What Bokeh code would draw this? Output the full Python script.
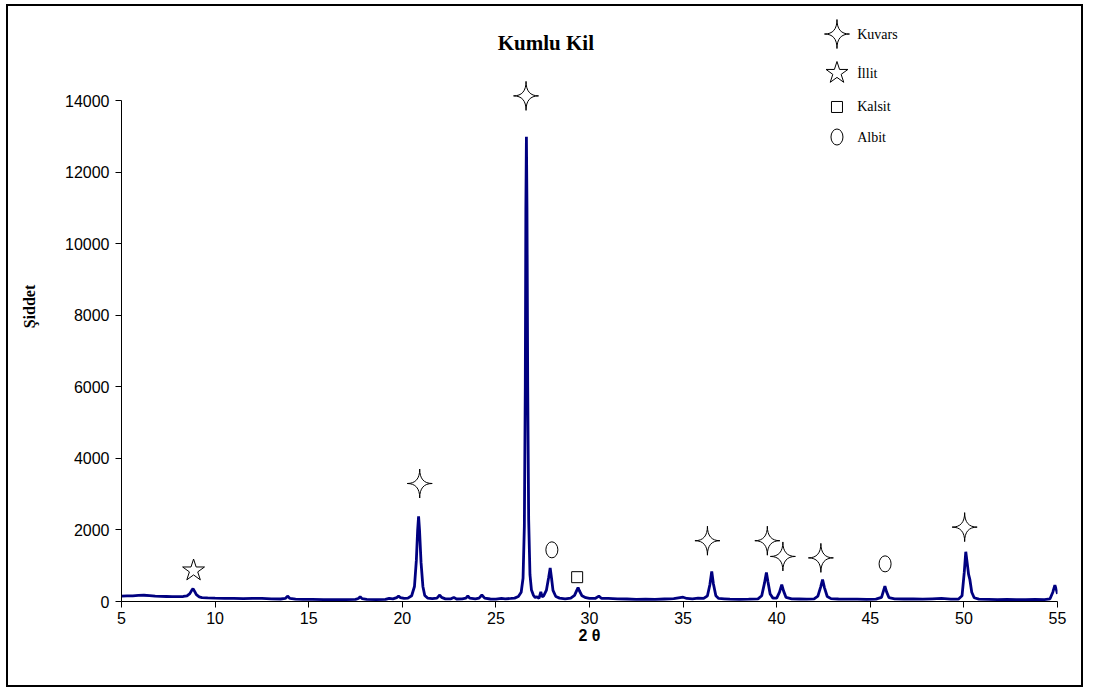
from bokeh.plotting import figure
from bokeh.models import FixedTicker, Range1d
from bokeh.core.properties import value
from bokeh.embed import file_html
from bokeh.resources import INLINE

# ---- data ----
theta = [
    5.0, 5.3, 5.6, 5.9, 6.2, 6.5, 6.8, 7.1, 7.4, 7.7,
    8.0, 8.3, 8.5, 8.65, 8.75, 8.82, 8.9, 9.0, 9.15, 9.3,
    9.6, 10.0, 10.5, 11.0, 11.5, 12.0, 12.5, 13.0, 13.5, 13.75,
    13.87, 14.0, 14.3, 14.7, 15.2, 15.8, 16.4, 17.0, 17.5, 17.65,
    17.75, 17.85, 18.1, 18.6, 19.1, 19.3, 19.5, 19.7, 19.8, 19.9,
    20.1, 20.3, 20.5, 20.65, 20.75, 20.82, 20.87, 20.92, 21.0, 21.1,
    21.2, 21.35, 21.6, 21.85, 22.0, 22.1, 22.3, 22.6, 22.75, 22.9,
    23.2, 23.4, 23.5, 23.6, 23.9, 24.1, 24.25, 24.4, 24.7, 25.0,
    25.3, 25.5, 25.8, 26.0, 26.2, 26.35, 26.45, 26.52, 26.57, 26.6,
    26.63, 26.66, 26.7, 26.75, 26.82, 26.9, 27.0, 27.1, 27.2, 27.3,
    27.4, 27.47, 27.55, 27.7, 27.82, 27.9, 27.97, 28.05, 28.2, 28.4,
    28.7, 29.0, 29.2, 29.32, 29.39, 29.46, 29.6, 29.8, 30.0, 30.3,
    30.5, 30.65, 31.0, 31.5, 32.0, 32.5, 33.0, 33.5, 34.0, 34.5,
    35.0, 35.2, 35.5, 35.8, 36.1, 36.3, 36.43, 36.53, 36.62, 36.75,
    36.9, 37.2, 37.5, 38.0, 38.5, 39.0, 39.2, 39.35, 39.45, 39.53,
    39.65, 39.8, 40.0, 40.15, 40.27, 40.37, 40.5, 40.8, 41.2, 41.6,
    42.0, 42.2, 42.35, 42.45, 42.55, 42.7, 42.9, 43.3, 43.8, 44.3,
    44.8, 45.3, 45.6, 45.7, 45.78, 45.87, 46.0, 46.3, 46.8, 47.3,
    47.8, 48.3, 48.8, 49.3, 49.7, 49.9, 50.02, 50.1, 50.17, 50.25,
    50.32, 50.42, 50.55, 50.8, 51.3, 51.8, 52.3, 52.8, 53.3, 53.8,
    54.3, 54.6, 54.75, 54.86, 54.95, 55.0,
]
intensity = [
    150, 155, 160, 170, 175, 165, 150, 145, 140, 135,
    135, 140, 160, 220, 310, 360, 290, 190, 130, 110,
    100, 95, 90, 85, 80, 85, 90, 75, 70, 85,
    150, 85, 65, 60, 60, 55, 55, 55, 60, 85,
    135, 80, 60, 55, 60, 90, 75, 110, 150, 110,
    85, 95, 160, 420, 1150, 2000, 2380, 2000, 1100, 420,
    170, 95, 80, 95, 180, 115, 75, 75, 115, 70,
    75, 95, 160, 95, 75, 95, 180, 95, 70, 65,
    85, 75, 85, 95, 140, 260, 650, 2100, 6000, 11000,
    13000, 11000, 6000, 2300, 750, 320, 180, 110, 130, 90,
    270, 130, 160, 320, 680, 940, 660, 310, 140, 95,
    75, 95, 170, 310, 390, 300, 160, 105, 85, 85,
    150, 85, 85, 75, 70, 60, 65, 60, 70, 80,
    120, 85, 75, 95, 85, 160, 470, 840, 490, 160,
    85, 75, 65, 60, 65, 75, 160, 520, 810, 560,
    210, 95, 95, 260, 470, 290, 115, 75, 70, 65,
    75, 150, 410, 610, 390, 140, 80, 70, 65, 65,
    60, 65, 115, 290, 430, 270, 105, 75, 70, 75,
    65, 75, 85, 65, 65, 160, 820, 1390, 1100, 760,
    610, 260, 105, 65, 60, 55, 60, 55, 55, 60,
    55, 75, 260, 460, 310, 210,
]

x_ticks = [5, 10, 15, 20, 25, 30, 35, 40, 45, 50, 55]
y_ticks = [0, 2000, 4000, 6000, 8000, 10000, 12000, 14000]

# phase markers above the peaks
kuvars_x = [20.93, 26.61, 36.30, 39.50, 40.33, 42.36, 50.04]
kuvars_y = [3300, 14140, 1700, 1700, 1260, 1220, 2080]
illit_x = [8.85]
illit_y = [866]
kalsit_x = [29.34]
kalsit_y = [680]
albit_x = [27.99, 45.79]
albit_y = [1445, 1053]

legend_names = ["Kuvars", "İllit", "Kalsit", "Albit"]
legend_y = [15870, 14780, 13830, 12990]
legend_sym_x = 43.22
legend_text_x = 44.3

title_text = "Kumlu Kil"
title_x = 27.67
title_y = 15620

X_RANGE = (5, 55)
Y_RANGE = (0, 16500)
FRAME_W = 1048.7 - 112.7   # px width of plot frame
FRAME_H = 595 - 5          # px height of plot frame

p = figure(width=1077, height=683,
           x_range=Range1d(*X_RANGE), y_range=Range1d(*Y_RANGE),
           output_backend="svg", toolbar_location=None,
           min_border_left=113, min_border_right=28,
           min_border_top=5, min_border_bottom=88)
p.margin = (4, 0, 0, 6)
p.styles = {"border": "2px solid black"}
p.outline_line_color = None
p.xgrid.visible = False
p.ygrid.visible = False
p.background_fill_color = "white"
p.border_fill_color = "white"

for ax in (p.xaxis[0], p.yaxis[0]):
    ax.major_tick_in = 0
    ax.major_tick_out = 6
    ax.minor_tick_line_color = None
    ax.axis_line_color = "black"
    ax.major_tick_line_color = "black"
    ax.major_label_text_font = "Liberation Sans"
    ax.major_label_text_font_size = "16px"
    ax.major_label_text_color = "black"
    ax.axis_label_text_color = "black"
    ax.axis_label_text_font_style = "bold"

p.xaxis.ticker = FixedTicker(ticks=x_ticks)
p.yaxis.ticker = FixedTicker(ticks=y_ticks)
p.yaxis.bounds = (y_ticks[0], y_ticks[-1])
p.xaxis.major_label_standoff = 4
p.yaxis.major_label_standoff = 6

p.xaxis.axis_label = "2 θ"
p.xaxis.axis_label_text_font = "Liberation Sans"
p.xaxis.axis_label_text_font_size = "16px"
p.xaxis.axis_label_standoff = 0
p.yaxis.axis_label = "Şiddet"
p.yaxis.axis_label_text_font = "Liberation Serif"
p.yaxis.axis_label_text_font_size = "16px"
p.yaxis.axis_label_standoff = 24

p.line(theta, intensity, line_color="#000080", line_width=2.8)

# ---- four-pointed star outline (shape in screen pixels, scaled to data) ----
def star4_shape(half_w=12.5, half_h=14.5, n=8):
    tips = [(0, -half_h), (half_w, 0), (0, half_h), (-half_w, 0), (0, -half_h)]
    pts = []
    for (x0, y0), (x1, y1) in zip(tips[:-1], tips[1:]):
        for i in range(n):
            t = i / n
            bx = (1 - t) ** 2 * x0 + (t ** 2) * x1
            by = (1 - t) ** 2 * y0 + (t ** 2) * y1
            pts.append((bx, by))
    return pts

STAR = star4_shape()
dx_per_px = (X_RANGE[1] - X_RANGE[0]) / FRAME_W
dy_per_px = (Y_RANGE[1] - Y_RANGE[0]) / FRAME_H

def star_patches(cx, cy):
    xs = [[x + sx * dx_per_px for sx, sy in STAR] for x in cx]
    ys = [[y - sy * dy_per_px for sx, sy in STAR] for y in cy]
    return xs, ys

kx, ky = star_patches(kuvars_x, kuvars_y)
p.patches(kx, ky, fill_color="white", line_color="black", line_width=1)
p.scatter(illit_x, illit_y, marker="star", size=23,
          fill_color="white", line_color="black", line_width=1)
p.scatter(kalsit_x, kalsit_y, marker="square", size=11,
          fill_color="white", line_color="black", line_width=1)
p.ellipse(x=albit_x, y=albit_y, width=12, height=16,
          width_units="screen", height_units="screen",
          fill_color="white", line_color="black", line_width=1)

# legend
lx, ly = star_patches([legend_sym_x], [legend_y[0]])
p.patches(lx, ly, fill_color="white", line_color="black", line_width=1)
p.scatter([legend_sym_x], [legend_y[1]], marker="star", size=23,
          fill_color="white", line_color="black", line_width=1)
p.scatter([legend_sym_x], [legend_y[2]], marker="square", size=11,
          fill_color="white", line_color="black", line_width=1)
p.ellipse(x=[legend_sym_x], y=[legend_y[3]], width=12, height=16,
          width_units="screen", height_units="screen",
          fill_color="white", line_color="black", line_width=1)
p.text(x=[legend_text_x] * 4, y=legend_y, text=legend_names,
       text_font=value("Liberation Serif"), text_font_size="14px",
       text_align="left", text_baseline="middle", text_color="black")

# title
p.text(x=[title_x], y=[title_y], text=[title_text],
       text_font=value("Liberation Serif"), text_font_size="21px",
       text_font_style="bold", text_align="center", text_baseline="middle",
       text_color="black")

open("out.html", "w").write(file_html(p, INLINE))
